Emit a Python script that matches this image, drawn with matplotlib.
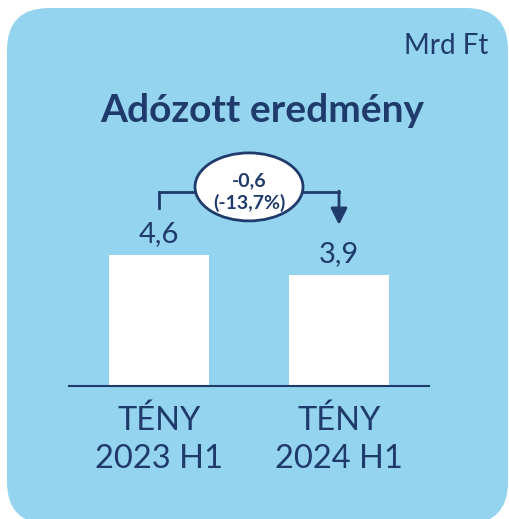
import matplotlib
matplotlib.use("Agg")
import matplotlib.pyplot as plt
from matplotlib.patches import FancyBboxPatch, Ellipse

plt.rcParams['font.family'] = ['Lato', 'DejaVu Sans']

# Data
categories = ["TÉNY\n2023 H1", "TÉNY\n2024 H1"]
values = [4.6, 3.9]
value_labels = ["4,6", "3,9"]
change_label = "-0,6\n(-13,7%)"
title = "Adózott eredmény"
unit = "Mrd Ft"

BG = "#94D4EE"
DARK = "#1F3B6B"

W, H = 509, 519
fig = plt.figure(figsize=(W / 100, H / 100), dpi=100)
fig.patch.set_facecolor("white")

# Rounded background panel
px0, py0, px1, py1 = 7, 8, 508, 524  # pixel box (from top)
panel = FancyBboxPatch((px0 / W, 1 - py1 / H), (px1 - px0) / W, (py1 - py0) / H,
                       boxstyle="round,pad=0,rounding_size=%f" % (42 / W),
                       transform=fig.transFigure, facecolor=BG, edgecolor="none",
                       mutation_aspect=W / H, zorder=-5)
fig.patches.append(panel)

# Axes: baseline at y=386 px from top, spanning x 69..429
ax_left, ax_right = 69, 429
ax_bottom = H - 386
ax_h = 250
ax = fig.add_axes([ax_left / W, ax_bottom / H, (ax_right - ax_left) / W, ax_h / H])
ax.set_facecolor("none")
ax.set_zorder(2)
px_per_unit = 28.5
ax.set_xlim(-0.5, 1.5)
ax.set_ylim(0, ax_h / px_per_unit)

x = list(range(len(values)))
ax.bar(x, values, width=0.56, color="white", zorder=2)

for s in ["top", "right", "left"]:
    ax.spines[s].set_visible(False)
ax.spines["bottom"].set_color(DARK)
ax.spines["bottom"].set_linewidth(1.5)
ax.set_yticks([])
ax.set_xticks(x)
ax.set_xticklabels(categories, fontsize=23.5, color=DARK, linespacing=1.32)
ax.tick_params(axis="x", length=0, pad=14)

for xi, v, lab in zip(x, values, value_labels):
    ax.annotate(lab, (xi, v), xytext=(0, 9), textcoords="offset points",
                ha="center", va="baseline", fontsize=21, color=DARK)

# Change bracket with ellipse
y_br = values[0] + 63 / px_per_unit
ax.plot([x[0], x[0]], [values[0] + 47 / px_per_unit, y_br], color=DARK, lw=2, zorder=3)
ax.plot([x[0], x[1]], [y_br, y_br], color=DARK, lw=2, zorder=3)
ax.annotate("", xy=(x[1], values[0] + 30 / px_per_unit), xytext=(x[1], y_br + 0.03),
            arrowprops=dict(arrowstyle="-|>,head_length=1.0,head_width=0.5",
                            color=DARK, lw=2, shrinkA=0, shrinkB=0), zorder=3)
xm = (x[0] + x[1]) / 2
ym = values[0] + 68 / px_per_unit
ell = Ellipse((xm, ym), width=108 / 180, height=68 / px_per_unit,
              facecolor="white", edgecolor=DARK, lw=2, zorder=4)
ax.add_patch(ell)
ax.text(xm, values[0] + 63 / px_per_unit, change_label, ha="center", va="center",
        fontsize=14, fontweight="bold", color=DARK, linespacing=1.3, zorder=5)

fig.text(262 / W, 1 - 111 / H, title, ha="center", va="center",
         fontsize=28, fontweight="bold", color=DARK)
fig.text(488 / W, 1 - 46 / H, unit, ha="right", va="center",
         fontsize=20, color=DARK)

fig.savefig("out.png", dpi=100, facecolor=fig.get_facecolor())
